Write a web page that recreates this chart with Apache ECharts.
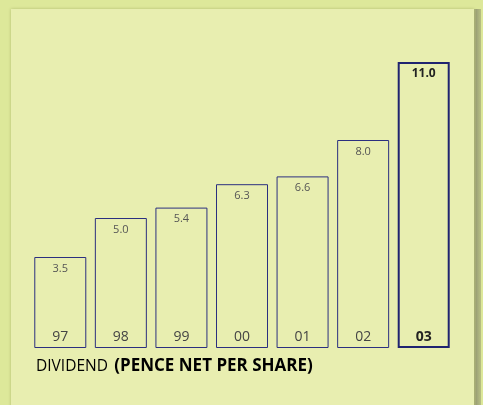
<!DOCTYPE html>
<html>
<head>
<meta charset="utf-8">
<style>
  html, body { margin: 0; padding: 0; background: #dde89a; }
  #chart { width: 483px; height: 405px; }
</style>
<script src="https://cdn.jsdelivr.net/npm/echarts@6/dist/echarts.min.js"></script>
</head>
<body>
<div id="chart"></div>
<script>
const years = ['97', '98', '99', '00', '01', '02', '03']
const dividend = [3.5, 5.0, 5.4, 6.3, 6.6, 8.0, 11.0]

const navy = '#2b2f7f'
const font = '"Open Sans", sans-serif'

const chart = echarts.init(document.getElementById('chart'))

// the latest year is drawn heavier
const last = years.length - 1
const valueData = dividend.map((v, i) => {
  if (i !== last) return v
  return {
    value: v,
    itemStyle: { borderWidth: 2, borderColor: '#1f2370' },
    label: { fontWeight: 'bold', color: '#222', fontSize: 12 }
  }
})
const yearData = dividend.map((v, i) => {
  if (i !== last) return v
  return {
    value: v,
    label: { fontWeight: 'bold', color: '#222' }
  }
})

chart.setOption({
  backgroundColor: '#dde89a',
  animation: false,
  graphic: [
    {
      type: 'rect',
      shape: { x: 472, y: 9, width: 9, height: 400 },
      style: {
        fill: new echarts.graphic.LinearGradient(0, 0, 1, 0, [
          { offset: 0, color: '#c7cf8a' },
          { offset: 0.5, color: '#9ea376' },
          { offset: 1, color: '#b8c084' }
        ])
      },
      z: -10
    },
    {
      type: 'rect',
      shape: { x: 11, y: 9, width: 463, height: 400 },
      style: {
        fill: '#e8eeb0',
        shadowBlur: 3,
        shadowColor: 'rgba(120,130,60,0.45)',
        shadowOffsetX: 0,
        shadowOffsetY: 0
      },
      z: -9
    },
    {
      type: 'text',
      left: 36,
      top: 358,
      style: {
        text: '{n|DIVIDEND} {b|(PENCE NET PER SHARE)}',
        rich: {
          n: { fontFamily: font, fontSize: 15.5, color: '#3a3a3a' },
          b: {
            fontFamily: font, fontSize: 17, fontWeight: 'bold', color: '#2a2a2a',
            padding: [0, 0, 0, 3]
          }
        }
      }
    }
  ],
  grid: { left: 30, right: 29, top: 62, bottom: 57 },
  xAxis: {
    type: 'category',
    data: years,
    axisLine: { show: false },
    axisTick: { show: false },
    axisLabel: { show: false }
  },
  yAxis: {
    type: 'value',
    min: 0,
    max: 11,
    show: false,
    splitLine: { show: false }
  },
  series: [
    {
      type: 'bar',
      data: valueData,
      barWidth: 52,
      itemStyle: { color: 'rgba(0,0,0,0)', borderColor: navy, borderWidth: 1 },
      label: {
        show: true,
        position: 'insideTop',
        distance: 6,
        fontFamily: font,
        fontSize: 11,
        color: '#555',
        formatter: p => p.value.toFixed(1)
      }
    },
    {
      type: 'bar',
      data: yearData,
      barWidth: 52,
      barGap: '-100%',
      itemStyle: { color: 'rgba(0,0,0,0)' },
      label: {
        show: true,
        position: 'insideBottom',
        distance: 4,
        fontFamily: font,
        fontSize: 14,
        color: '#444',
        formatter: p => p.name
      }
    }
  ]
})
</script>
</body>
</html>
